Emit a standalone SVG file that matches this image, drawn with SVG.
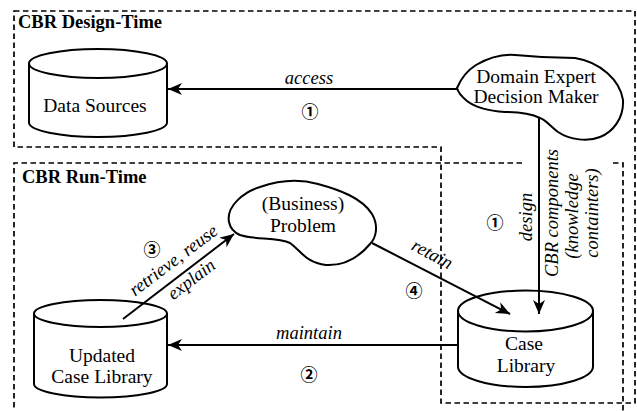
<svg xmlns="http://www.w3.org/2000/svg" width="637" height="411" viewBox="0 0 637 411">
<style>
.bnd{fill:none;stroke:#000;stroke-width:1.7;stroke-dasharray:5.5 3.5}
.shp{fill:#fff;stroke:#000;stroke-width:2}
.ln{fill:none;stroke:#000;stroke-width:2}
.title{font-family:"Liberation Serif","Times New Roman",serif;font-weight:bold;font-size:18.5px;fill:#000}
.node{font-family:"Liberation Serif","Times New Roman",serif;font-size:19.5px;fill:#000;text-anchor:middle}
.lbl{font-family:"Liberation Serif","Times New Roman",serif;font-style:italic;font-size:18.5px;fill:#000;text-anchor:middle}
.num{font-family:"Noto Sans CJK JP","DejaVu Sans",sans-serif;font-size:17px;font-weight:bold;fill:#000;text-anchor:middle;dominant-baseline:central}
</style>
<defs>
<marker id="ah" markerUnits="userSpaceOnUse" markerWidth="16" markerHeight="14" refX="14" refY="6" orient="auto">
<path d="M0,0 L14,6 L0,12 L4,6 Z" fill="#000"/>
</marker>
</defs>
<rect width="637" height="411" fill="#fff"/>
<g id="boundaries">
<path class="bnd" d="M14,11 H635 V403 H441 V147 H14 Z"/>
<path class="bnd" d="M522,163 H14 V420"/>
<path class="bnd" d="M613,163 H623 V420"/>
<text class="title" x="18" y="28">CBR Design-Time</text>
<text class="title" x="22" y="183">CBR Run-Time</text>
</g>
<g id="data-sources">
<path class="shp" d="M29,63.5 V122.5 A69,14.5 0 0 0 167,122.5 V63.5"/>
<ellipse class="shp" cx="98" cy="63.5" rx="69" ry="14.5"/>
<text class="node" x="95" y="112">Data Sources</text>
</g>
<g id="domain-expert">
<path class="shp" d="M457,88 C462,76 468,70 476,65 C490,57 502,54 515,55 C535,57 555,58 575,58 C600,62 620,80 623,100 C624,118 613,132 600,137 C588,142 570,140 558,132 C550,126 546,120 540,118 C530,113 518,112 505,112 C490,111 476,108 467,101 C461,96 458,92 457,88 Z"/>
<text class="node" x="536" y="83">Domain Expert</text>
<text class="node" x="536" y="103">Decision Maker</text>
</g>
<g id="problem">
<path class="shp" d="M229,222 C226,206 244,192 260,187 C280,180 300,179 318,184 C340,190 362,198 372,214 C379,226 376,238 370,244 C360,256 345,266 326,265 C306,263 300,250 290,243 C278,237 254,240 240,235 C233,232 230,227 229,222 Z"/>
<text class="node" x="303" y="210">(Business)</text>
<text class="node" x="303" y="232">Problem</text>
</g>
<g id="updated-case-library">
<path class="shp" d="M34,313.5 V384 A66.5,13.5 0 0 0 167,384 V313.5"/>
<ellipse class="shp" cx="100.5" cy="313.5" rx="66.5" ry="13.5"/>
<text class="node" x="102" y="362">Updated</text>
<text class="node" x="102" y="383">Case Library</text>
</g>
<g id="case-library">
<path class="shp" d="M458,311 V366.5 A67.5,20.5 0 0 0 593,366.5 V311"/>
<ellipse class="shp" cx="525.5" cy="311" rx="67.5" ry="20.5"/>
<text class="node" x="524" y="350">Case</text>
<text class="node" x="526" y="372">Library</text>
</g>
<g id="connectors">
<line class="ln" x1="457" y1="89" x2="168" y2="89" marker-end="url(#ah)"/>
<line class="ln" x1="539" y1="118" x2="539" y2="314" marker-end="url(#ah)"/>
<line class="ln" x1="458" y1="345" x2="168" y2="345" marker-end="url(#ah)"/>
<line class="ln" x1="123" y1="319" x2="234" y2="234" marker-end="url(#ah)"/>
<line class="ln" x1="372" y1="243" x2="510" y2="314" marker-end="url(#ah)"/>
<text class="lbl" x="309" y="84">access</text>
<text class="num" x="310" y="110">①</text>
<text class="lbl" x="309" y="339">maintain</text>
<text class="num" x="309" y="373">②</text>
<text class="num" x="152" y="248">③</text>
<text class="lbl" transform="translate(177,265) rotate(-37)">retrieve, reuse</text>
<text class="lbl" transform="translate(195,284) rotate(-37)">explain</text>
<text class="lbl" transform="translate(429.5,259.5) rotate(28)">retain</text>
<text class="num" x="414" y="289">④</text>
<text class="num" x="495" y="221">①</text>
<text class="lbl" transform="translate(532,217) rotate(-90)">design</text>
<text class="lbl" transform="translate(558,213) rotate(-90)">CBR components</text>
<text class="lbl" transform="translate(578,216) rotate(-90)">(knowledge</text>
<text class="lbl" transform="translate(598,213) rotate(-90)">containters)</text>
</g>
</svg>
